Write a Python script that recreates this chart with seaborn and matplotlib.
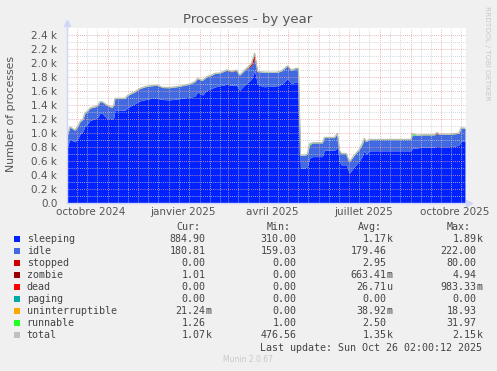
import matplotlib
matplotlib.use("Agg")
import matplotlib.pyplot as plt
from matplotlib.patches import Rectangle
import pandas as pd
import seaborn as sns

W, H = 497, 371

# ---- data ----
dates = [
    "2024-09-21", "2024-09-24", "2024-09-27", "2024-09-29", "2024-10-02", "2024-10-04", "2024-10-07", "2024-10-09", "2024-10-12", "2024-10-14",
    "2024-10-17", "2024-10-19", "2024-10-22", "2024-10-24", "2024-10-26", "2024-10-28", "2024-10-31", "2024-11-03", "2024-11-05", "2024-11-07",
    "2024-11-08", "2024-11-13", "2024-11-18", "2024-11-21", "2024-11-25", "2024-11-28", "2024-12-03", "2024-12-08", "2024-12-13", "2024-12-20",
    "2024-12-26", "2025-01-02", "2025-01-07", "2025-01-12", "2025-01-17", "2025-01-22", "2025-01-27", "2025-01-30", "2025-02-02", "2025-02-04",
    "2025-02-08", "2025-02-13", "2025-02-16", "2025-02-21", "2025-02-24", "2025-02-28", "2025-03-05", "2025-03-10", "2025-03-13", "2025-03-16",
    "2025-03-18", "2025-03-22", "2025-03-25", "2025-03-28", "2025-03-31", "2025-04-04", "2025-04-07", "2025-04-12", "2025-04-17", "2025-04-20",
    "2025-04-24", "2025-04-27", "2025-04-30", "2025-05-04", "2025-05-08", "2025-05-11", "2025-05-13", "2025-05-17", "2025-05-20", "2025-05-22",
    "2025-05-25", "2025-05-30", "2025-06-04", "2025-06-06", "2025-06-11", "2025-06-16", "2025-06-19", "2025-06-21", "2025-06-23", "2025-06-28",
    "2025-07-01", "2025-07-06", "2025-07-11", "2025-07-14", "2025-07-16", "2025-07-18", "2025-07-21", "2025-08-07", "2025-09-01", "2025-09-02",
    "2025-09-07", "2025-09-11", "2025-09-19", "2025-09-24", "2025-09-27", "2025-09-29", "2025-10-04", "2025-10-09", "2025-10-14", "2025-10-19",
    "2025-10-21", "2025-10-25",
]

sleeping = [
    788, 916, 888, 874, 924, 983, 1026, 1102, 1138, 1178,
    1194, 1204, 1226, 1279, 1282, 1251, 1211, 1206, 1198, 1226,
    1331, 1329, 1326, 1364, 1396, 1418, 1459, 1476, 1491, 1497,
    1478, 1474, 1481, 1491, 1502, 1511, 1524, 1587, 1556, 1543,
    1611, 1636, 1656, 1676, 1682, 1696, 1682, 1686, 1610, 1656,
    1686, 1731, 1771, 1891, 1697, 1671, 1661, 1666, 1671, 1676,
    1696, 1730, 1776, 1706, 1730, 1730, 497, 497, 521, 640,
    663, 663, 663, 754, 754, 754, 786, 596, 546, 546,
    426, 517, 598, 666, 750, 696, 746, 746, 746, 782,
    785, 797, 797, 797, 810, 804, 804, 804, 811, 826,
    887, 885,
]

idle = [
    165, 170, 168, 165, 172, 175, 170, 180, 178, 175,
    172, 168, 170, 165, 162, 175, 185, 170, 165, 170,
    160, 162, 165, 175, 170, 168, 175, 182, 180, 185,
    170, 172, 175, 175, 180, 185, 205, 190, 200, 210,
    190, 190, 192, 180, 190, 200, 190, 210, 215, 210,
    210, 205, 190, 165, 175, 200, 205, 200, 195, 190,
    190, 190, 180, 190, 190, 190, 185, 185, 175, 185,
    195, 195, 195, 180, 180, 180, 205, 160, 160, 160,
    160, 165, 165, 170, 170, 180, 160, 160, 160, 185,
    182, 175, 175, 175, 180, 178, 178, 178, 175, 170,
    185, 181,
]

stopped = [
    0, 0, 0, 0, 0, 0, 0, 0, 0, 0,
    0, 0, 0, 0, 0, 0, 0, 0, 0, 0,
    0, 0, 0, 0, 0, 0, 0, 0, 0, 0,
    0, 0, 0, 0, 0, 0, 0, 0, 0, 0,
    0, 0, 0, 0, 0, 0, 8, 0, 0, 0,
    0, 10, 30, 80, 5, 0, 0, 0, 0, 0,
    0, 0, 0, 0, 0, 0, 0, 0, 0, 0,
    0, 0, 0, 0, 0, 0, 0, 0, 0, 0,
    0, 0, 0, 0, 0, 0, 0, 0, 0, 0,
    0, 0, 0, 0, 15, 0, 0, 0, 0, 0,
    0, 0,
]

zombie = [
    0, 0, 1, 1, 1, 0, 1, 1, 1, 1,
    1, 0, 0, 1, 1, 1, 1, 0, 1, 1,
    1, 1, 1, 0, 0, 1, 1, 1, 1, 1,
    1, 1, 0, 1, 1, 1, 1, 1, 0, 1,
    1, 1, 1, 1, 1, 2, 2, 1, 1, 1,
    1, 1, 2, 3, 1, 1, 1, 0, 0, 1,
    1, 1, 1, 1, 0, 0, 0, 0, 0, 0,
    1, 1, 1, 1, 0, 0, 1, 0, 0, 0,
    0, 0, 1, 1, 1, 0, 0, 0, 0, 1,
    1, 1, 1, 1, 1, 1, 1, 1, 1, 1,
    1, 1,
]

runnable = [
    2, 3, 2, 2, 3, 2, 2, 3, 2, 2,
    3, 2, 2, 2, 3, 2, 2, 2, 3, 2,
    2, 3, 2, 2, 3, 2, 2, 2, 3, 2,
    2, 2, 3, 2, 2, 3, 2, 2, 2, 3,
    2, 2, 3, 2, 2, 3, 2, 2, 3, 2,
    2, 3, 2, 3, 2, 2, 3, 2, 2, 3,
    2, 2, 3, 2, 2, 3, 2, 2, 3, 20,
    2, 3, 2, 2, 3, 2, 2, 3, 2, 2,
    3, 2, 2, 15, 2, 3, 2, 2, 3, 25,
    2, 2, 3, 2, 2, 3, 2, 2, 3, 2,
    2, 1,
]

month_labels = ["octobre 2024", "janvier 2025", "avril 2025", "juillet 2025", "octobre 2025"]
month_label_dates = ["2024-10-15", "2025-01-15", "2025-04-15", "2025-07-15", "2025-10-15"]

legend_names = ["sleeping", "idle", "stopped", "zombie", "dead", "paging",
                "uninterruptible", "runnable", "total"]
legend_colors = ["#0022ff", "#4169e1", "#cc0000", "#990000", "#ff0000", "#00aaaa",
                 "#ffa500", "#22ff22", "#c0c0c0"]
cur_vals = ["884.90", "180.81", "0.00", "1.01", "0.00", "0.00", "21.24m", "1.26", "1.07k"]
min_vals = ["310.00", "159.03", "0.00", "0.00", "0.00", "0.00", "0.00", "1.00", "476.56"]
avg_vals = ["1.17k", "179.46", "2.95", "663.41m", "26.71u", "0.00", "38.92m", "2.50", "1.35k"]
max_vals = ["1.89k", "222.00", "80.00", "4.94", "983.33m", "0.00", "18.93", "31.97", "2.15k"]

df = pd.DataFrame({
    "date": pd.to_datetime(dates),
    "sleeping": sleeping,
    "idle": idle,
    "stopped": stopped,
    "zombie": zombie,
    "runnable": runnable,
})
df["total"] = df[["sleeping", "idle", "stopped", "zombie", "runnable"]].sum(axis=1)

sns.set_style("white")
plt.rcParams["font.family"] = ["DejaVu Sans"]

text_col = "#555555"
fig = plt.figure(figsize=(W / 100, H / 100), dpi=100, facecolor="#f0f0f0")
ax = fig.add_axes([67 / W, 1 - 203 / H, 399 / W, 175 / H])
ax.set_facecolor("white")

ax.stackplot(df["date"],
             [df["sleeping"], df["idle"], df["stopped"], df["zombie"], df["runnable"]],
             colors=["#0022ff", "#4169e1", "#cc0000", "#990000", "#22ff22"],
             linewidth=0, zorder=1)
sns.lineplot(data=df, x="date", y="total", color="#b8c0b0", linewidth=0.9, ax=ax, zorder=2)

start, end = pd.Timestamp("2024-09-21"), pd.Timestamp("2025-10-26")
ax.set_xlim(start, end)
ax.set_ylim(0, 2500)

# rrdtool style grid, drawn over the areas
for d in pd.date_range(start, end, freq="D"):
    if d.day == 1:
        ax.axvline(d, color="#e8a0a0", lw=0.6, ls=(0, (1, 1.5)), zorder=3)
    elif d.day in (11, 21):
        ax.axvline(d, color="#c8c8c8", lw=0.6, ls=(0, (1, 1.5)), zorder=3)
for v in range(100, 2500, 100):
    c = "#e8a0a0" if v % 200 == 0 else "#c8c8c8"
    ax.axhline(v, color=c, lw=0.6, ls=(0, (1, 1.5)), zorder=3)

yt = list(range(0, 2401, 200))
ax.set_yticks(yt)
ax.set_yticklabels(["0.0"] + [f"{v / 1000:.1f} k" for v in yt[1:]])
ax.set_xticks(pd.to_datetime(month_label_dates))
ax.set_xticklabels(month_labels)
ax.tick_params(axis="y", length=0, pad=7, labelsize=7.5, labelcolor=text_col)
ax.tick_params(axis="x", length=0, pad=3, labelsize=7.5, labelcolor=text_col)
ax.set_xlabel("")
ax.set_ylabel("")

for s in ["top", "right"]:
    ax.spines[s].set_visible(False)
for s in ["left", "bottom"]:
    ax.spines[s].set_color("#cfd6f8")
    ax.spines[s].set_linewidth(1.0)
    ax.spines[s].set_zorder(4)
ax.plot([1.0, 1.008], [0, 0], color="#cfd6f8", lw=1, transform=ax.transAxes, clip_on=False)
ax.plot([1.008], [0], marker=">", ms=4, color="#cfd6f8", transform=ax.transAxes, clip_on=False)
ax.plot([0, 0], [1.0, 1.02], color="#cfd6f8", lw=1, transform=ax.transAxes, clip_on=False)
ax.plot([0], [1.03], marker="^", ms=4, color="#cfd6f8", transform=ax.transAxes, clip_on=False)

fig.text(248 / W, 1 - 19 / H, "Processes - by year", ha="center", va="center",
         fontsize=9.5, color=text_col)
fig.text(11 / W, 1 - 114 / H, "Number of processes", ha="center", va="center",
         rotation=90, fontsize=7.8, color=text_col)
fig.text(487 / W, 1 - 53 / H, "RRDTOOL / TOBI OETIKER", ha="center", va="center",
         rotation=-90, fontsize=5.3, color="#c8c8c8")

# legend table
mono = dict(family="DejaVu Sans Mono", fontsize=7.2, color="#444444", va="center")
for name, x in zip(["Cur:", "Min:", "Avg:", "Max:"], [176, 266.7, 357.7, 446.7]):
    fig.text(x / W, 1 - 227.3 / H, name, ha="left", **mono)
col_ends = [205.7, 296.7, 386.7, 476.7]
for i, name in enumerate(legend_names):
    y = 1 - (239.3 + 12 * i) / H
    fig.add_artist(Rectangle((14 / W, y - 3 / H), 6 / W, 6 / H, transform=fig.transFigure,
                             facecolor=legend_colors[i], edgecolor="none"))
    fig.text(26.7 / W, y, name, ha="left", **mono)
    for vals, xe in zip([cur_vals, min_vals, avg_vals, max_vals], col_ends):
        s = vals[i]
        if s[-1] in "kmu":
            num, suf = s[:-1], s[-1]
        else:
            num, suf = s, ""
        fig.text(xe / W, y, num, ha="right", **mono)
        if suf:
            fig.text(xe / W, y, suf, ha="left", **mono)
fig.text(482.3 / W, 1 - 347.7 / H, "Last update: Sun Oct 26 02:00:12 2025", ha="right", **mono)
fig.text(248 / W, 1 - 360 / H, "Munin 2.0.67", ha="center", va="center",
         fontsize=5.5, color="#c8c8c8")

fig.savefig("out.png", dpi=100, facecolor=fig.get_facecolor())
